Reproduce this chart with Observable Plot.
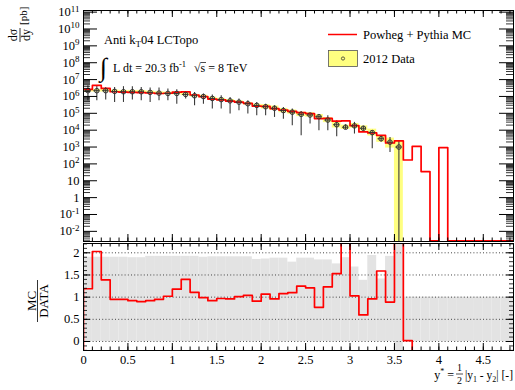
<!DOCTYPE html>
<html>
<head>
<meta charset="utf-8">
<script src="https://cdn.jsdelivr.net/npm/d3@7"></script>
<script src="https://cdn.jsdelivr.net/npm/@observablehq/plot@0.6"></script>
<style>
  body { margin: 0; background: #fff; }
  #wrap { position: relative; width: 515px; height: 390px; overflow: hidden; }
  #wrap > svg { position: absolute; left: 0; }
  #wrap text { font-family: "Liberation Serif", "Times New Roman", serif; }
</style>
</head>
<body>
<div id="wrap"></div>
<script>
// ---------------- data ----------------
const binWidth = 0.1;
// 2012 Data: dσ/dy [pb] per bin of y* (bins of 0.1 from 0 to 3.6)
const dataVals = [2.19e6,2.19e6,2.19e6,2.0e6,1.9e6,1.9e6,1.9e6,1.74e6,1.58e6,1.51e6,
  1.51e6,1.32e6,1.10e6,9.8e5,7.6e5,6.5e5,5.5e5,4.6e5,3.7e5,2.95e5,
  2.45e5,2.0e5,1.45e5,1.17e5,8.7e4,7.9e4,6.3e4,4.0e4,2.1e4,1.5e4,
  1.8e4,1.3e4,7.2e3,3.1e3,1.95e3,1.0e3];
const dataHi = [4.3e6,4.3e6,3.4e6,3.4e6,3.8e6,3.8e6,3.4e6,3.2e6,3.2e6,2.8e6,
  2.5e6,1.9e6,1.7e6,1.4e6,1.2e6,1.1e6,8.7e5,7.0e5,5.6e5,4.4e5,
  3.5e5,2.8e5,2.2e5,1.8e5,1.3e5,9.8e4,7.9e4,7.1e4,3.6e4,2.1e4,
  2.9e4,1.7e4,9.1e3,4.3e3,3.7e3,2.3e3];
const dataLo = [5.6e5,5.6e5,6.1e5,4.4e5,4.4e5,6.1e5,5.6e5,4.4e5,5.6e5,5.6e5,
  3.5e5,7.0e5,2.8e5,3.5e5,1.8e5,1.8e5,9.1e4,1.4e5,9.1e4,7.1e4,
  7.1e4,5.7e4,4.5e4,1.8e4,4.7e3,2.3e4,9.1e3,9.1e3,4.1e3,1.1e4,
  5.9e3,9.0e3,8.0e2,2.0e3,4.8e2,1e-6];
// yellow uncertainty boxes
const yellowHi = [2.63e6,2.63e6,2.63e6,2.4e6,2.28e6,2.28e6,2.28e6,2.09e6,1.9e6,1.81e6,
  1.81e6,1.58e6,1.32e6,1.18e6,9.1e5,7.8e5,6.6e5,5.5e5,4.4e5,3.5e5,
  3.3e5,2.7e5,1.96e5,1.58e5,1.17e5,1.07e5,8.5e4,5.6e4,3.2e4,2.0e4,
  2.5e4,1.8e4,1.15e4,4.7e3,3.4e3,2.2e3];
const yellowLo = [1.83e6,1.83e6,1.83e6,1.67e6,1.58e6,1.58e6,1.58e6,1.45e6,1.32e6,1.26e6,
  1.26e6,1.1e6,9.2e5,8.2e5,6.3e5,5.4e5,4.6e5,3.8e5,3.1e5,2.46e5,
  1.8e5,1.48e5,1.07e5,8.7e4,6.4e4,5.9e4,4.7e4,2.8e4,1.35e4,1.1e4,
  1.3e4,9e3,4.5e3,1.9e3,8.7e2,1e-6];
// Powheg + Pythia MC (bins of 0.1 from 0 to 4.9; empty bins sit on the axis floor)
const mcVals = [2.6e6,4.5e6,3.0e6,1.9e6,1.8e6,1.74e6,1.7e6,1.6e6,1.5e6,1.55e6,
  1.78e6,1.86e6,1.22e6,9.7e5,7.0e5,6.3e5,5.3e5,4.6e5,3.9e5,2.7e5,
  2.6e5,1.9e5,1.56e5,1.29e5,1.09e5,9.6e4,4.9e4,5.0e4,3.4e4,3.6e4,
  1.85e4,7.9e3,6.9e3,4.9e3,1.74e3,2.3e3,1.7e2,1.1e3,35,2.7e-3,
  9.3e2,2.7e-3,2.7e-3,2.7e-3,2.7e-3,2.7e-3,2.7e-3,2.7e-3,2.7e-3];
// MC / DATA ratio (first entry drawn from below the panel, last drops out of it)
const ratioStart = -1;
const ratioVals = [1.19,2.03,1.39,0.95,0.95,0.92,0.90,0.92,0.95,1.02,
  1.18,1.40,1.11,0.99,0.92,0.97,0.96,1.01,1.04,0.91,
  1.07,0.96,1.08,1.10,1.25,1.21,0.77,1.23,1.53,2.4,
  1.03,0.60,0.96,1.59,0.89,2.4,0.02,-1];
// grey uncertainty band in the ratio panel
const bandHi = [1.90,1.90,1.90,1.90,1.90,1.89,1.89,1.92,1.92,1.92,
  1.92,1.92,1.92,1.90,1.91,1.91,1.91,1.91,1.91,1.85,
  1.86,1.88,1.88,1.79,1.88,1.88,1.84,1.84,1.75,1.89,
  1.68,1.38,1.94,1.41,1.92,3.0,1.0,1.0,1.0,1.0,
  1.0,1.0,1.0,1.0,1.0,1.0,1.0,1.0,1.0];
const bandLo = [0,0,0,0,0,0,0,0,0,0, 0,0,0,0,0,0,0,0,0,0,
  0,0,0,0,0,0,0,0,0,0, 0,0,0,0,0,-1,0,0,0,0, 0,0,0,0,0,0,0,0,0];
// tick labels
const xTickLabels = [0,0.5,1,1.5,2,2.5,3,3.5,4,4.5];
const topExponents = [-2,-1,0,1,2,3,4,5,6,7,8,9,10,11];
const ratioTickLabels = [0,0.5,1,1.5,2];

// ---------------- tables ----------------
const dataTable = dataVals.map((v, i) => ({
  x0: i * binWidth, x1: (i + 1) * binWidth, xc: (i + 0.5) * binWidth,
  v, lo: dataLo[i], hi: dataHi[i], ylo: yellowLo[i], yhi: yellowHi[i]
}));
const mcLine = mcVals.map((v, i) => ({x: i * binWidth, v}));
mcLine.push({x: mcVals.length * binWidth, v: mcVals[mcVals.length - 1]});
const ratioLine = [{x: 0, v: ratioStart}].concat(ratioVals.map((v, i) => ({x: i * binWidth, v})));
const bandTable = bandHi.map((h, i) => ({x0: i * binWidth, x1: (i + 1) * binWidth, lo: bandLo[i], hi: h}));

// ---------------- layout ----------------
const W = 515, ML = 83, MR = 2;
const topH = 242, topMT = 10, topMB = 1;
const ratH = 148, ratMT = 1, ratMB = 40;
const xDomain = [0, 4.84];
const topDomain = [2.5e-3, 1.25e11];
const ratDomain = [-0.203, 2.21];
const fontFamily = "Liberation Serif, Times New Roman, serif";
const plotW = W - ML - MR;

const xMinor = d3.range(0, 49).map(i => i / 10).filter(v => v <= xDomain[1]);
const topMajor = topExponents.map(e => Math.pow(10, e));
const topMinor = [];
for (let e = -3; e <= 11; e++) for (let m = 2; m <= 9; m++) {
  const v = m * Math.pow(10, e);
  if (v > topDomain[0] && v < topDomain[1]) topMinor.push(v);
}
const ratMinor = d3.range(-2, 23).map(i => i / 10).filter(v => v > ratDomain[0] && v < ratDomain[1]);

function tickMarks(plotH, yMaj, yMin, majX, minX, majY, minY) {
  return [
    Plot.tickX(xTickLabels, {x: d => d, insetTop: plotH - majX, stroke: "#000"}),
    Plot.tickX(xTickLabels, {x: d => d, insetBottom: plotH - majX, stroke: "#000"}),
    Plot.tickX(xMinor, {x: d => d, insetTop: plotH - minX, stroke: "#000"}),
    Plot.tickX(xMinor, {x: d => d, insetBottom: plotH - minX, stroke: "#000"}),
    Plot.tickY(yMaj, {y: d => d, insetRight: plotW - majY, stroke: "#000"}),
    Plot.tickY(yMaj, {y: d => d, insetLeft: plotW - majY, stroke: "#000"}),
    Plot.tickY(yMin, {y: d => d, insetRight: plotW - minY, stroke: "#000", strokeWidth: 0.8}),
    Plot.tickY(yMin, {y: d => d, insetLeft: plotW - minY, stroke: "#000", strokeWidth: 0.8})
  ];
}

// ---------------- top panel ----------------
const topPlot = Plot.plot({
  width: W, height: topH,
  marginLeft: ML, marginRight: MR, marginTop: topMT, marginBottom: topMB,
  style: {fontFamily, fontSize: "12.5px", color: "#000", background: "transparent"},
  x: {domain: xDomain, axis: null},
  y: {type: "log", domain: topDomain, axis: null},
  marks: [
    Plot.rect(dataTable, {x1: "x0", x2: "x1", y1: "ylo", y2: "yhi", fill: "#ffff80", clip: true}),
    Plot.ruleX(dataTable, {x: "xc", y1: "lo", y2: "hi", stroke: "#3a3a3a", strokeWidth: 1.1, clip: true}),
    Plot.line(mcLine, {x: "x", y: "v", curve: "step-after", stroke: "#ff0000", strokeWidth: 1.7, clip: true}),
    Plot.ruleY(dataTable, {y: "v", x1: d => d.xc - 0.035, x2: d => d.xc + 0.035, stroke: "#333"}),
    Plot.dot(dataTable, {x: "xc", y: "v", r: 2.3, stroke: "#333", strokeWidth: 1, fill: "none"}),
    ...tickMarks(topH - topMT - topMB, topMajor, topMinor, 7, 3.5, 14, 7),
    Plot.frame({stroke: "#000"}),
    Plot.axisY({
      ticks: topMajor, tickSize: 0, tickPadding: 4, fontFamily, fontSize: 12.5,
      tickFormat: d => {
        const e = Math.round(Math.log10(d));
        return e === 0 ? "1" : e === 1 ? "10" : "10^" + e;
      }
    })
  ]
});
topPlot.style.top = "0px";

// superscript exponents on the log labels
d3.select(topPlot).selectAll("text").each(function () {
  const t = this.textContent;
  const m = /^10\^(-?\d+)$/.exec(t);
  if (!m) return;
  const sel = d3.select(this);
  sel.text(null);
  sel.append("tspan").text("10");
  sel.append("tspan").attr("dy", "-0.5em").attr("font-size", "9px").text(m[1]);
});

// ---------------- ratio panel ----------------
const ratioPlot = Plot.plot({
  width: W, height: ratH,
  marginLeft: ML, marginRight: MR, marginTop: ratMT, marginBottom: ratMB,
  style: {fontFamily, fontSize: "12.5px", color: "#000", background: "transparent"},
  x: {domain: xDomain, axis: null},
  y: {domain: ratDomain, axis: null},
  marks: [
    Plot.rect(bandTable, {x1: "x0", x2: "x1", y1: "lo", y2: "hi", fill: "#e3e3e3", clip: true}),
    Plot.ruleY(ratioTickLabels, {y: d => d, stroke: "#444", strokeDasharray: "1,2.2"}),
    Plot.line(ratioLine, {x: "x", y: "v", curve: "step-after", stroke: "#ff0000", strokeWidth: 1.7, clip: true}),
    ...tickMarks(ratH - ratMT - ratMB, ratioTickLabels, ratMinor, 7, 3.5, 7, 4),
    Plot.frame({stroke: "#000"}),
    Plot.axisX({anchor: "bottom", ticks: xTickLabels, tickSize: 0, tickPadding: 5, fontFamily, fontSize: 12.5, tickFormat: d => String(d)}),
    Plot.axisY({ticks: ratioTickLabels, tickSize: 0, tickPadding: 4, fontFamily, fontSize: 12.5, tickFormat: d => String(d)})
  ]
});
ratioPlot.style.top = topH + "px";

const wrap = document.getElementById("wrap");
wrap.appendChild(topPlot);
wrap.appendChild(ratioPlot);

// ---------------- titles, annotations, legend ----------------
const ov = d3.select(wrap).append("svg")
  .attr("width", W).attr("height", 390)
  .style("top", "0px").style("pointer-events", "none")
  .attr("font-family", fontFamily).attr("fill", "#000");

// y title (top panel)
const gt = ov.append("g").attr("transform", "translate(20,35) rotate(-90)").attr("font-size", "12px");
gt.append("text").attr("x", 0).attr("y", -3).attr("text-anchor", "middle").text("dσ");
gt.append("line").attr("x1", -7).attr("x2", 7).attr("y1", 0).attr("y2", 0).attr("stroke", "#000").attr("stroke-width", 0.8);
gt.append("text").attr("x", 0).attr("y", 10).attr("text-anchor", "middle").text("dy");
gt.append("text").attr("x", 10).attr("y", 7).attr("font-size", "11px").text("[pb]");

// y title (ratio panel)
const gr = ov.append("g").attr("transform", "translate(37.5,301) rotate(-90)").attr("font-size", "13px");
gr.append("text").attr("x", 0).attr("y", -2).attr("text-anchor", "middle").text("MC");
gr.append("line").attr("x1", -21).attr("x2", 21).attr("y1", 0).attr("y2", 0).attr("stroke", "#000").attr("stroke-width", 0.8);
gr.append("text").attr("x", 0).attr("y", 10).attr("text-anchor", "middle").text("DATA");

// annotation
const a1 = ov.append("text").attr("x", 104).attr("y", 44).attr("font-size", "12.5px");
a1.append("tspan").text("Anti k");
a1.append("tspan").attr("dy", 3).attr("font-size", "9px").text("T");
a1.append("tspan").attr("dy", -3).text("04 LCTopo");
ov.append("text").attr("x", 100).attr("y", 76).attr("font-size", "26px").text("∫");
const a2 = ov.append("text").attr("x", 113).attr("y", 72).attr("font-size", "12px");
a2.append("tspan").text("L dt = 20.3 fb");
a2.append("tspan").attr("dy", -5).attr("font-size", "8.5px").text("-1");
ov.append("text").attr("x", 194).attr("y", 72).attr("font-size", "12px").text("√s = 8 TeV");
ov.append("line").attr("x1", 200.5).attr("x2", 206).attr("y1", 62.5).attr("y2", 62.5).attr("stroke", "#000").attr("stroke-width", 0.7);

// legend
ov.append("line").attr("x1", 328).attr("x2", 357).attr("y1", 34.5).attr("y2", 34.5).attr("stroke", "#ff0000").attr("stroke-width", 1.5);
ov.append("text").attr("x", 363).attr("y", 39).attr("font-size", "12.5px").text("Powheg + Pythia MC");
ov.append("rect").attr("x", 328.5).attr("y", 50.5).attr("width", 29).attr("height", 16).attr("fill", "#ffff80").attr("stroke", "#555").attr("stroke-width", 0.8);
ov.append("circle").attr("cx", 343).attr("cy", 58.5).attr("r", 1.6).attr("fill", "none").attr("stroke", "#333").attr("stroke-width", 0.8);
ov.append("text").attr("x", 363).attr("y", 63).attr("font-size", "12.5px").text("2012 Data");

// x title
const xt = ov.append("text").attr("x", 454).attr("y", 379).attr("font-size", "12px").attr("text-anchor", "end");
xt.append("tspan").text("y");
xt.append("tspan").attr("dy", -5).attr("font-size", "8px").text("*");
xt.append("tspan").attr("dy", 5).text(" =");
ov.append("text").attr("x", 459.5).attr("y", 371).attr("font-size", "10px").attr("text-anchor", "middle").text("1");
ov.append("line").attr("x1", 456).attr("x2", 463).attr("y1", 374).attr("y2", 374).attr("stroke", "#000").attr("stroke-width", 0.7);
ov.append("text").attr("x", 459.5).attr("y", 384).attr("font-size", "10px").attr("text-anchor", "middle").text("2");
const xt2 = ov.append("text").attr("x", 513).attr("y", 379).attr("font-size", "11.5px").attr("text-anchor", "end");
xt2.append("tspan").text("|y");
xt2.append("tspan").attr("dy", 3).attr("font-size", "8px").text("1");
xt2.append("tspan").attr("dy", -3).text(" - y");
xt2.append("tspan").attr("dy", 3).attr("font-size", "8px").text("2");
xt2.append("tspan").attr("dy", -3).text("| [-]");
</script>
</body>
</html>
